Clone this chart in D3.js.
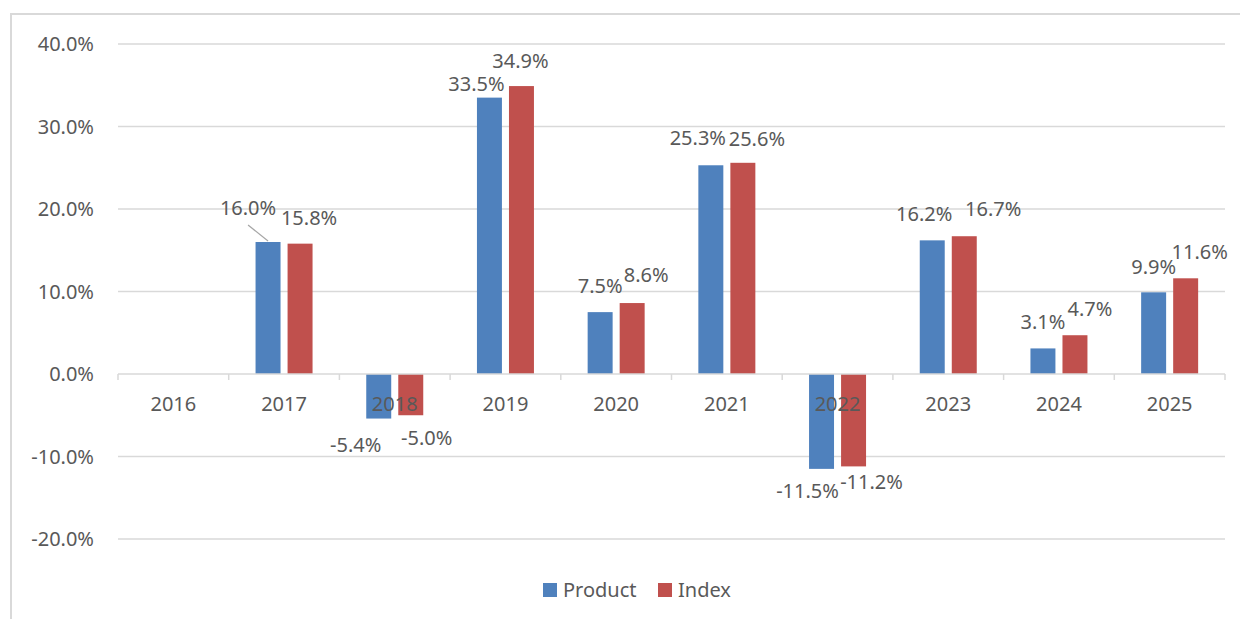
<!DOCTYPE html>
<html>
<head>
<meta charset="utf-8">
<script src="https://cdn.jsdelivr.net/npm/d3@7"></script>
<style>
  body { margin: 0; background: #fff; }
  svg text { font-family: "Noto Sans", "Open Sans", sans-serif; fill: #595959; }
</style>
</head>
<body>
<div id="chart"></div>
<script>
var years = ["2016", "2017", "2018", "2019", "2020", "2021", "2022", "2023", "2024", "2025"];
var product = [null, 16.0, -5.4, 33.5, 7.5, 25.3, -11.5, 16.2, 3.1, 9.9];
var index = [null, 15.8, -5.0, 34.9, 8.6, 25.6, -11.2, 16.7, 4.7, 11.6];
var yTicks = [-20, -10, 0, 10, 20, 30, 40];
var seriesNames = ["Product", "Index"];
var colors = ["#4F81BD", "#C0504D"];

// label nudges (px), mimic the spreadsheet's placement
var nudgeProduct = [[0,0], [-20,-8], [-23,0], [-13,12], [0,0], [-13,-1], [-14,-4], [-8,0], [0,0], [0,1]];
var nudgeIndex = [[0,0], [9,0], [16,-3], [-1,1], [14,-2], [14,2], [18,-10], [29,-1], [15,0], [14,0]];

var width = 1240, height = 619;
var fs = 20;
var svg = d3.select("#chart")
  .append("svg")
    .attr("width", width)
    .attr("height", height);

svg.append("rect")
  .attr("x", 11).attr("y", 14)
  .attr("width", 1240).attr("height", 620)
  .attr("fill", "none")
  .attr("stroke", "#d9d9d9")
  .attr("stroke-width", 2);

var x = d3.scaleBand()
  .domain(years)
  .range([118, 1225]);

var x1 = d3.scaleBand()
  .domain(seriesNames)
  .range([-28.5, 28.5])
  .paddingInner(0.22);

var y = d3.scaleLinear()
  .domain([-20, 40])
  .range([539, 44]);

// gridlines
svg.append("g")
  .selectAll("line")
  .data(yTicks.filter(d => d != 0))
  .join("line")
    .attr("x1", 118).attr("x2", 1225)
    .attr("y1", d => y(d)).attr("y2", d => y(d))
    .attr("stroke", "#d9d9d9")
    .attr("stroke-width", 1.5);

// y labels
svg.append("g")
  .selectAll("text")
  .data(yTicks)
  .join("text")
    .attr("x", 94)
    .attr("y", d => y(d))
    .attr("dy", "0.35em")
    .attr("text-anchor", "end")
    .attr("font-size", fs)
    .text(d => d.toFixed(1) + "%");

// bars
var rows = years.map((yr, i) => ({ year: yr, i: i, vals: [product[i], index[i]] }));
var groups = svg.append("g")
  .selectAll("g")
  .data(rows)
  .join("g")
    .attr("transform", d => "translate(" + (x(d.year) + x.bandwidth() / 2) + ",0)");

groups.selectAll("rect")
  .data(d => d.vals.map((v, k) => ({ v: v, k: k })).filter(e => e.v != null))
  .join("rect")
    .attr("x", e => x1(seriesNames[e.k]))
    .attr("width", x1.bandwidth())
    .attr("y", e => y(Math.max(0, e.v)))
    .attr("height", e => Math.abs(y(e.v) - y(0)))
    .attr("fill", e => colors[e.k]);

// zero axis with ticks
var axis = svg.append("g");
axis.append("line")
  .attr("x1", 118).attr("x2", 1225)
  .attr("y1", y(0)).attr("y2", y(0))
  .attr("stroke", "#d9d9d9")
  .attr("stroke-width", 1.5);
axis.selectAll(".tk")
  .data(years.concat(["end"]))
  .join("line")
    .attr("class", "tk")
    .attr("x1", (d, i) => 118 + i * x.step())
    .attr("x2", (d, i) => 118 + i * x.step())
    .attr("y1", y(0)).attr("y2", y(0) + 6)
    .attr("stroke", "#d9d9d9")
    .attr("stroke-width", 1.5);

// category labels
svg.append("g")
  .selectAll("text")
  .data(years)
  .join("text")
    .attr("x", d => x(d) + x.bandwidth() / 2)
    .attr("y", y(0) + 30)
    .attr("dy", "0.35em")
    .attr("text-anchor", "middle")
    .attr("font-size", fs)
    .text(d => d);

// data labels
var labels = [];
rows.forEach(r => {
  r.vals.forEach((v, k) => {
    if (v == null) return;
    var n = (k == 0 ? nudgeProduct : nudgeIndex)[r.i];
    var cx = x(r.year) + x.bandwidth() / 2 + x1(seriesNames[k]) + x1.bandwidth() / 2;
    labels.push({ v: v, cx: cx, lx: cx + n[0], ly: (v >= 0 ? y(v) - 26 : y(v) + 26) + n[1], top: y(v) });
  });
});

svg.append("g")
  .selectAll("text")
  .data(labels)
  .join("text")
    .attr("x", d => d.lx)
    .attr("y", d => d.ly)
    .attr("dy", "0.35em")
    .attr("text-anchor", "middle")
    .attr("font-size", fs)
    .text(d => d.v.toFixed(1) + "%");

// leader line for the shifted 2017 product label
var lead = labels[0];
svg.append("line")
  .attr("x1", lead.lx).attr("y1", lead.ly + 17)
  .attr("x2", lead.cx).attr("y2", lead.top - 1)
  .attr("stroke", "#a6a6a6")
  .attr("stroke-width", 1.2);

// legend
var legend = svg.append("g");
var legendX = [543, 658];
seriesNames.forEach((s, k) => {
  legend.append("rect")
    .attr("x", legendX[k]).attr("y", 583)
    .attr("width", 14).attr("height", 14)
    .attr("fill", colors[k]);
  legend.append("text")
    .attr("x", legendX[k] + 20).attr("y", 590)
    .attr("dy", "0.35em")
    .attr("font-size", fs)
    .text(s);
});
</script>
</body>
</html>
